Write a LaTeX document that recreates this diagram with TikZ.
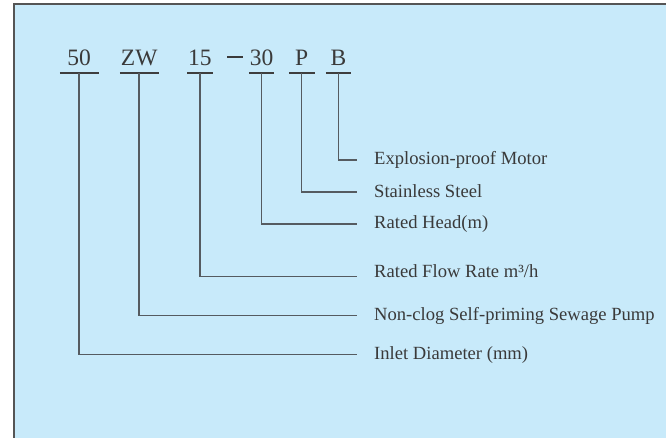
\documentclass[tikz,border=0pt]{standalone}
\usepackage{fontspec}
\setmainfont{Liberation Serif}
\definecolor{bgblue}{HTML}{C8EAFA}
\definecolor{frame}{HTML}{555555}
\definecolor{txt}{HTML}{3A3A3A}
\definecolor{conn}{HTML}{555B60}
\definecolor{uline}{HTML}{3E3E3E}
\tikzset{
  code/.style={anchor=base, text=txt, font=\fontsize{23.5}{26}\selectfont, inner xsep=0pt, inner ysep=7.6pt, text depth=0pt},
  desc/.style={anchor=base west, text=txt, font=\fontsize{18.6}{21}\selectfont, inner sep=0pt},
  connector/.style={draw=conn, line width=1.5pt},
  underline/.style={draw=uline, line width=2pt}
}
\begin{document}
\begin{tikzpicture}[x=1pt,y=-1pt]
\useasboundingbox (0,0) rectangle (666,438);
\fill[white] (0,0) rectangle (666,438);
\fill[bgblue] (13.5,4) rectangle (666,438);
\draw[frame, line width=2pt] (13.5,438) -- (13.5,4) -- (666,4);

% code letters
\node[code, minimum width=38.3pt] (n50) at (79.2,65.7) {50};
\node[code, minimum width=38.3pt] (nZW) at (139.2,65.7) {ZW};
\node[code, minimum width=25pt] (n15) at (199.8,65.7) {15};
\node[anchor=base, text=txt, inner sep=0pt] (ndash) at (235,65.7) {\color{txt}\rule[7.4pt]{15.4pt}{2pt}};
\node[code, minimum width=25.3pt] (n30) at (261.6,65.7) {30};
\node[code, minimum width=25.3pt] (nP) at (301.7,65.7) {P};
\node[code, minimum width=25pt] (nB) at (338.5,65.7) {B};

\foreach \n in {n50,nZW,n15,n30,nP,nB}{
  \draw[underline] (\n.south west) -- (\n.south east);
}

% descriptions
\node[desc] (dB) at (374,164.3) {Explosion-proof Motor};
\node[desc] (dP) at (374,197.3) {Stainless Steel};
\node[desc] (d30) at (374,228.5) {Rated Head(m)};
\node[desc] (d15) at (374,277.5) {Rated Flow Rate m³/h};
\node[desc] (dZW) at (374,320.7) {Non-clog Self-priming Sewage Pump};
\node[desc] (d50) at (374,359.5) {Inlet Diameter (mm)};

\coordinate (eB) at (357,160);
\coordinate (eP) at (357,192);
\coordinate (e30) at (357,224);
\coordinate (e15) at (357,276.5);
\coordinate (eZW) at (357,315.7);
\coordinate (e50) at (357,354.7);

\draw[connector] (nB.south) |- (eB);
\draw[connector] (nP.south) |- (eP);
\draw[connector] (n30.south) |- (e30);
\draw[connector] (n15.south) |- (e15);
\draw[connector] (nZW.south) |- (eZW);
\draw[connector] (n50.south) |- (e50);
\end{tikzpicture}
\end{document}
